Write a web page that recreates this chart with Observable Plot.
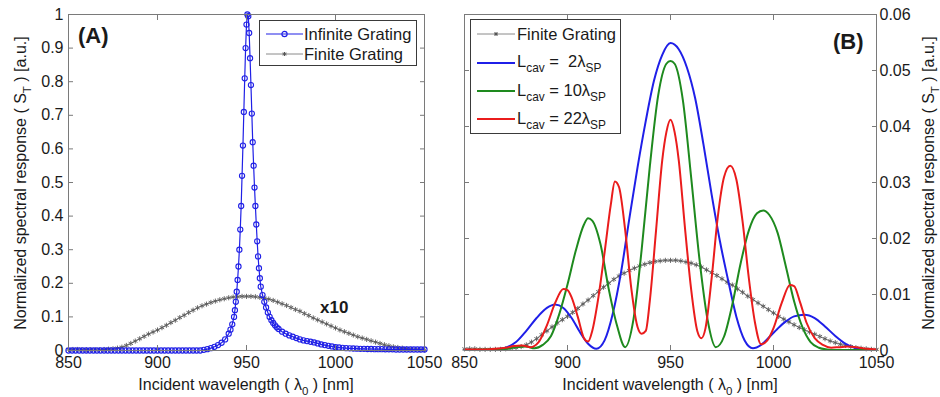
<!DOCTYPE html>
<html>
<head>
<meta charset="utf-8">
<script src="https://cdn.jsdelivr.net/npm/d3@7"></script>
<script src="https://cdn.jsdelivr.net/npm/@observablehq/plot@0.6"></script>
<style>
  html, body { margin: 0; padding: 0; background: #fff; }
  body { width: 940px; height: 397px; position: relative; overflow: hidden;
         font-family: "Liberation Sans", Arial, Helvetica, sans-serif; color: #1a1a1a; }
  .abs { position: absolute; white-space: pre; }
  .panel { position: absolute; top: 0; }
  .panel svg { overflow: visible; }
  sub { font-size: 72%; vertical-align: -0.42em; line-height: 0; }
  .xl { font-size: 16px; line-height: 18px; transform: translateX(-50%); }
  .yl { font-size: 16px; line-height: 18px; transform: translate(-50%, -50%) rotate(-90deg); }
  .leg { position: absolute; background: #fff; border: 1px solid #3a3a3a; box-sizing: border-box; }
  .leg .lt { position: absolute; font-size: 16.5px; line-height: 18px; white-space: pre; }
  .leg svg { position: absolute; overflow: visible; }
  .tag { font-weight: bold; }
</style>
</head>
<body>
<div id="pa" class="panel" style="left:0px"></div>
<div id="pb" class="panel" style="left:440px"></div>

<!-- axis labels -->
<div class="abs xl" style="left:246px;top:376px">Incident wavelength ( λ<sub>0</sub> ) [nm]</div>
<div class="abs xl" style="left:670px;top:376px">Incident wavelength ( λ<sub>0</sub> ) [nm]</div>
<div class="abs yl" style="left:21px;top:183px">Normalized spectral response ( S<sub>T</sub> ) [a.u.]</div>
<div class="abs yl" style="left:929px;top:183px">Normalized spectral response ( S<sub>T</sub> ) [a.u.]</div>

<!-- panel tags -->
<div class="abs tag" style="left:78px;top:23px;font-size:22px;line-height:26px">(A)</div>
<div class="abs tag" style="left:833px;top:29px;font-size:22px;line-height:26px">(B)</div>
<div class="abs tag" style="left:320px;top:298px;font-size:17px;line-height:20px">x10</div>

<!-- legend A -->
<div class="leg" style="left:259px;top:20px;width:158px;height:46px">
  <svg style="left:6px;top:7px" width="38" height="12">
    <line x1="0" y1="6" x2="37" y2="6" stroke="#2020e6" stroke-width="1.2"/>
    <circle cx="18.5" cy="6" r="2.6" fill="none" stroke="#2020e6" stroke-width="1.2"/>
  </svg>
  <div class="lt" style="left:44px;top:4px">Infinite Grating</div>
  <svg style="left:6px;top:27px" width="38" height="12">
    <line x1="0" y1="6" x2="37" y2="6" stroke="#8a8a8a" stroke-width="1"/>
    <path d="M18.5,4V8M16.5,6H20.5M17,4.5L20,7.5M20,4.5L17,7.5" stroke="#555" stroke-width="1"/>
  </svg>
  <div class="lt" style="left:44px;top:24px">Finite Grating</div>
</div>

<!-- legend B -->
<div class="leg" style="left:470px;top:19px;width:151px;height:115px">
  <svg style="left:6px;top:8px" width="38" height="12">
    <line x1="0" y1="6" x2="38" y2="6" stroke="#8a8a8a" stroke-width="1"/>
    <path d="M19,4V8M17,6H21M17.5,4.5L20.5,7.5M20.5,4.5L17.5,7.5" stroke="#555" stroke-width="1"/>
  </svg>
  <div class="lt" style="left:46px;top:5px">Finite Grating</div>
  <svg style="left:6px;top:37px" width="38" height="12">
    <line x1="0" y1="6" x2="38" y2="6" stroke="#1f1fe8" stroke-width="2"/>
  </svg>
  <div class="lt" style="left:46px;top:32px">L<sub>cav</sub> =  2λ<sub>SP</sub></div>
  <svg style="left:6px;top:65px" width="38" height="12">
    <line x1="0" y1="6" x2="38" y2="6" stroke="#1e8a1e" stroke-width="2"/>
  </svg>
  <div class="lt" style="left:46px;top:61px">L<sub>cav</sub> = 10λ<sub>SP</sub></div>
  <svg style="left:6px;top:93px" width="38" height="12">
    <line x1="0" y1="6" x2="38" y2="6" stroke="#ea1c1c" stroke-width="2"/>
  </svg>
  <div class="lt" style="left:46px;top:89px">L<sub>cav</sub> = 22λ<sub>SP</sub></div>
</div>

<script>
// ---------- data ----------
const xTicks = [850, 900, 950, 1000, 1050];
const yTicksA = [0, 0.1, 0.2, 0.3, 0.4, 0.5, 0.6, 0.7, 0.8, 0.9, 1];
const yTicksB = [0, 0.01, 0.02, 0.03, 0.04, 0.05, 0.06];

// Infinite grating (panel A)
const infWl = [850,852,854,856,858,860,862,864,866,868,870,872,874,876,878,880,882,884,886,888,
  890,892,894,896,898,900,902,904,906,908,910,912,914,916,918,920,922,924,
  926,928,930,932,934,936,938,940,941,942,943,
  943.5,944,944.5,945,945.5,946,946.5,947,947.5,948,948.5,949,949.5,950,950.5,951,951.5,952,952.5,953,
  953.5,954,954.5,955,955.5,956,956.5,957,957.5,958,
  959,960,961,962,963,964,965,966,967,968,
  970,972,974,976,978,980,982,984,986,988,990,992,994,996,998,1000,
  1002,1004,1006,1008,1010,1012,1014,1016,1018,1020,1022,1024,1026,1028,1030,1032,1034,1036,1038,1040,1042,1044,1046,1048,1050];
const infVal = [0,0,0,0,0,0,0,0,0,0,0,0,0,0,0,0,0,0,0,0,
  0,0,0,0,0,0,0,0,0,0,0,0,0,0,0,0,0,0,
  0.002,0.004,0.007,0.011,0.016,0.023,0.033,0.05,0.062,0.078,0.1,
  0.12,0.145,0.175,0.21,0.25,0.3,0.36,0.43,0.52,0.61,0.71,0.81,0.9,0.97,1.0,0.995,0.945,0.87,0.79,0.705,
  0.62,0.55,0.485,0.43,0.375,0.325,0.28,0.245,0.215,0.19,
  0.165,0.145,0.128,0.113,0.1,0.09,0.082,0.075,0.069,0.064,
  0.056,0.05,0.045,0.041,0.037,0.033,0.03,0.028,0.026,0.024,0.021,0.018,0.016,0.014,0.012,0.01,
  0.009,0.008,0.007,0.0065,0.006,0.0055,0.005,0.005,0.0045,0.0045,0.004,0.004,0.004,0.0035,0.0035,0.0035,0.003,0.003,0.003,0.003,0.003,0.003,0.003,0.003,0.003];

// Finite grating (panel B units; panel A shows it x10)
const finiteWl = [850,852.5,855,857.5,860,862.5,865,867.5,870,872.5,875,877.5,880,882.5,885,887.5,890,892.5,895,897.5,
  900,902.5,905,907.5,910,912.5,915,917.5,920,922.5,925,927.5,930,932.5,935,937.5,940,942.5,945,947.5,
  950,952.5,955,957.5,960,962.5,965,967.5,970,972.5,975,977.5,980,982.5,985,987.5,990,992.5,995,997.5,
  1000,1002.5,1005,1007.5,1010,1012.5,1015,1017.5,1020,1022.5,1025,1027.5,1030,1032.5,1035,1037.5,1040,1042.5,1045,1047.5,1050];
const finiteVal = [0.0003,0.0003,0.0003,0.0002,0.0002,0.0002,0.0002,0.0002,0.0003,0.0004,0.0005,0.0007,0.001,0.0015,0.0021,0.0028,0.0035,0.0042,0.0049,0.0055,
  0.0061,0.0068,0.0075,0.0083,0.009,0.0098,0.0105,0.0113,0.012,0.0127,0.0133,0.0138,0.0143,0.0147,0.0151,0.0154,0.0157,0.0159,0.016,0.0161,
  0.0161,0.0161,0.016,0.0158,0.0156,0.0153,0.0149,0.0144,0.0139,0.0134,0.0128,0.0122,0.0117,0.011,0.0104,0.0097,0.0091,0.0085,0.0079,0.0073,
  0.0067,0.0061,0.0056,0.0051,0.0046,0.0041,0.0037,0.0033,0.0029,0.0025,0.0021,0.0017,0.0014,0.0011,0.0009,0.0007,0.0005,0.0004,0.0003,0.0002,0.0002];
const finiteScaleA = 10; // "x10" in panel A

// Cavity curves (panel B)
const blueWl = [850,860,865,870,875,880,885,890,894,898,902,906,910,914,918,922,926,930,934,938,942,946,950,954,958,962,966,970,974,978,982,986,990,994,998,1002,1006,1010,1015,1020,1025,1030,1035,1040,1045,1050];
const blueVal = [0.0001,0.0001,0.0002,0.0005,0.0015,0.0035,0.0058,0.0076,0.0082,0.0076,0.0058,0.0033,0.0012,0.0003,0.0018,0.0066,0.014,0.0235,0.0327,0.041,0.0482,0.0528,0.0549,0.0538,0.0505,0.045,0.0368,0.0278,0.0195,0.0125,0.006,0.0018,0.0004,0.001,0.0024,0.0039,0.0052,0.0061,0.0064,0.0058,0.0043,0.0026,0.0012,0.0004,0.0001,0.0001];

const greenWl = [850,860,870,875,880,884,888,892,896,900,904,908,910,912,916,920,924,928,932,936,940,944,948,950,952,956,960,964,968,972,976,980,984,988,992,995,998,1002,1006,1010,1014,1018,1022,1026,1030,1040,1050];
const greenVal = [0.0001,0.0002,0.0003,0.0006,0.0007,0.0004,0.001,0.0026,0.0065,0.0118,0.0178,0.0225,0.0236,0.0232,0.019,0.011,0.0045,0.0006,0.0055,0.018,0.033,0.0455,0.0512,0.0517,0.0512,0.0447,0.031,0.0165,0.0055,0.0006,0.0025,0.0082,0.0155,0.0214,0.0245,0.025,0.0242,0.021,0.015,0.0088,0.0042,0.0015,0.0005,0.0002,0.0001,0.0001,0.0001];

const redWl = [850,860,865,870,874,878,882,886,890,894,898,900,902,905,908,910,912,915,918,921,923,925,928,931,934,936,938,940,943,946,948,950,952,954,957,960,963,965,967,970,973,976,979,982,985,988,991,994,997,1000,1004,1008,1010,1013,1016,1020,1024,1028,1032,1036,1040,1045,1050];
const redVal = [0.0002,0.0002,0.0003,0.0005,0.0008,0.0009,0.0006,0.0015,0.0045,0.0085,0.011,0.0108,0.0095,0.006,0.0022,0.0016,0.0035,0.0095,0.0175,0.026,0.0302,0.0292,0.0215,0.011,0.0042,0.003,0.0035,0.009,0.0215,0.034,0.039,0.0412,0.039,0.034,0.022,0.011,0.0035,0.0022,0.004,0.013,0.024,0.031,0.033,0.0305,0.023,0.013,0.005,0.0011,0.0018,0.004,0.0085,0.0117,0.0115,0.0085,0.005,0.0022,0.001,0.0005,0.0006,0.0007,0.0006,0.0003,0.0002];

// ---------- build ----------
const zip = (xs, ys) => xs.map((x, i) => ({x, y: ys[i]}));
const infinite = zip(infWl, infVal);
const finite = zip(finiteWl, finiteVal);
const blue = zip(blueWl, blueVal);
const green = zip(greenWl, greenVal);
const red = zip(redWl, redVal);

const FONT = '"Liberation Sans", Arial, Helvetica, sans-serif';
const AX = "#7a7a7a";
const fmt = d => String(d);

function frameAxes(yTicks, labelSide) {
  const otherSide = labelSide === "left" ? "right" : "left";
  return [
    Plot.frame({stroke: AX, strokeWidth: 1}),
    Plot.axisX({anchor: "bottom", ticks: xTicks, tickSize: 0, tickPadding: 6, tickFormat: fmt, label: null, fill: "#1a1a1a"}),
    Plot.axisX({anchor: "bottom", ticks: xTicks, tickSize: -5, tickFormat: () => "", label: null, stroke: AX}),
    Plot.axisX({anchor: "top", ticks: xTicks, tickSize: -5, tickFormat: () => "", label: null, stroke: AX}),
    Plot.axisY({anchor: labelSide, ticks: yTicks, tickSize: 0, tickPadding: labelSide === "left" ? 5 : 3, tickFormat: fmt, label: null, fill: "#1a1a1a"}),
    Plot.axisY({anchor: labelSide, ticks: yTicks, tickSize: -5, tickFormat: () => "", label: null, stroke: AX}),
    Plot.axisY({anchor: otherSide, ticks: yTicks, tickSize: -5, tickFormat: () => "", label: null, stroke: AX})
  ];
}

const plotA = Plot.plot({
  width: 440, height: 397,
  marginLeft: 68, marginRight: 16, marginTop: 14, marginBottom: 47,
  style: {fontFamily: FONT, fontSize: "16px", background: "transparent", overflow: "visible"},
  x: {domain: [850, 1050]},
  y: {domain: [0, 1]},
  marks: [
    Plot.line(finite, {x: "x", y: d => d.y * finiteScaleA, stroke: "#8a8a8a", strokeWidth: 1.2}),
    Plot.dot(finite, {x: "x", y: d => d.y * finiteScaleA, symbol: "asterisk", r: 2.4, stroke: "#5a5a5a", strokeWidth: 0.9}),
    Plot.line(infinite, {x: "x", y: "y", stroke: "#2020e6", strokeWidth: 1.2}),
    Plot.dot(infinite, {x: "x", y: "y", r: 2.6, stroke: "#2020e6", fill: "none", strokeWidth: 1.1}),
    ...frameAxes(yTicksA, "left")
  ]
});
document.getElementById("pa").append(plotA);

const plotB = Plot.plot({
  width: 500, height: 397,
  marginLeft: 24, marginRight: 64, marginTop: 14, marginBottom: 47,
  style: {fontFamily: FONT, fontSize: "16px", background: "transparent", overflow: "visible"},
  x: {domain: [850, 1050]},
  y: {domain: [0, 0.06]},
  marks: [
    Plot.line(finite, {x: "x", y: "y", stroke: "#8a8a8a", strokeWidth: 1.2}),
    Plot.dot(finite, {x: "x", y: "y", symbol: "asterisk", r: 2.4, stroke: "#5a5a5a", strokeWidth: 0.9}),
    Plot.line(blue, {x: "x", y: "y", stroke: "#1f1fe8", strokeWidth: 2, curve: "monotone-x"}),
    Plot.line(green, {x: "x", y: "y", stroke: "#1e8a1e", strokeWidth: 2, curve: "monotone-x"}),
    Plot.line(red, {x: "x", y: "y", stroke: "#ea1c1c", strokeWidth: 2, curve: "monotone-x"}),
    ...frameAxes(yTicksB, "right")
  ]
});
document.getElementById("pb").append(plotB);
</script>
</body>
</html>
